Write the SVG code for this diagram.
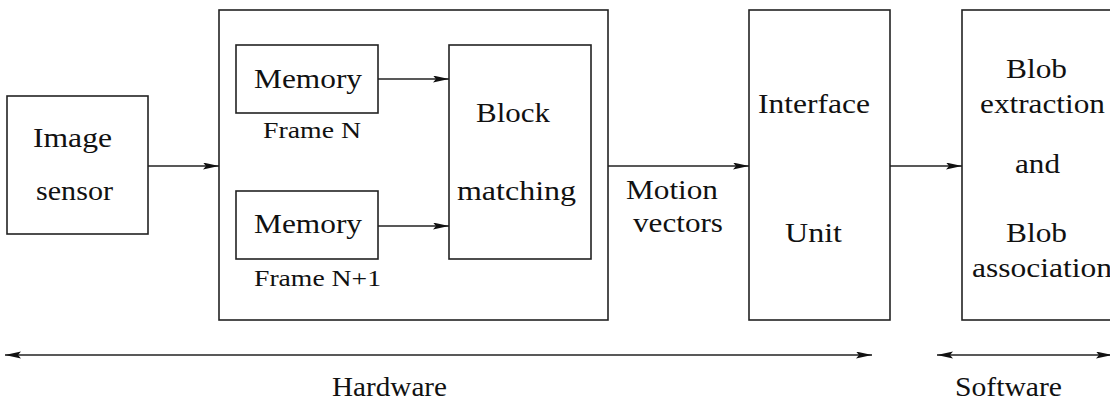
<svg xmlns="http://www.w3.org/2000/svg" width="1110" height="400" viewBox="0 0 1110 400">
<style>
.box{fill:#fff;stroke:#222;stroke-width:1.6}
.t{font-family:"Liberation Serif","Times New Roman",serif;font-size:27px;fill:#111}
.s{font-family:"Liberation Serif","Times New Roman",serif;font-size:23px;fill:#111}
.ln{stroke:#222;stroke-width:1.6;fill:none}
</style>
<defs>
<marker id="ah" markerUnits="userSpaceOnUse" markerWidth="17" markerHeight="8" refX="16" refY="3.5" orient="auto-start-reverse">
<path d="M0,0 L16,3.5 L0,7 L3,3.5 z" fill="#111"/>
</marker>
</defs>
<rect width="1110" height="400" fill="#fff"/>
<g id="image-sensor">
<rect class="box" x="7" y="96" width="141" height="138"/>
<text class="t" x="33" y="147" textLength="79" lengthAdjust="spacingAndGlyphs">Image</text>
<text class="t" x="36" y="200" textLength="77" lengthAdjust="spacingAndGlyphs">sensor</text>
</g>
<g id="hardware-block">
<rect class="box" x="219" y="10" width="389" height="310"/>
</g>
<g id="memory-n">
<rect class="box" x="236" y="45" width="142" height="68"/>
<text class="t" x="254" y="88" textLength="108" lengthAdjust="spacingAndGlyphs">Memory</text>
<text class="s" x="263" y="138" textLength="98" lengthAdjust="spacingAndGlyphs">Frame N</text>
</g>
<g id="memory-n1">
<rect class="box" x="236" y="191" width="142" height="68"/>
<text class="t" x="254" y="233" textLength="108" lengthAdjust="spacingAndGlyphs">Memory</text>
<text class="s" x="254" y="286" textLength="127" lengthAdjust="spacingAndGlyphs">Frame N+1</text>
</g>
<g id="block-matching">
<rect class="box" x="449" y="45" width="142" height="214"/>
<text class="t" x="476" y="122" textLength="74" lengthAdjust="spacingAndGlyphs">Block</text>
<text class="t" x="457" y="200" textLength="119" lengthAdjust="spacingAndGlyphs">matching</text>
</g>
<g id="interface-unit">
<rect class="box" x="749" y="10" width="141" height="310"/>
<text class="t" x="758" y="113" textLength="112" lengthAdjust="spacingAndGlyphs">Interface</text>
<text class="t" x="785" y="242" textLength="57" lengthAdjust="spacingAndGlyphs">Unit</text>
</g>
<g id="blob">
<rect class="box" x="962" y="10" width="160" height="310"/>
<text class="t" x="1006" y="78" textLength="61" lengthAdjust="spacingAndGlyphs">Blob</text>
<text class="t" x="980" y="113" textLength="125" lengthAdjust="spacingAndGlyphs">extraction</text>
<text class="t" x="1015" y="173" textLength="45" lengthAdjust="spacingAndGlyphs">and</text>
<text class="t" x="1006" y="242" textLength="61" lengthAdjust="spacingAndGlyphs">Blob</text>
<text class="t" x="972" y="277" textLength="140" lengthAdjust="spacingAndGlyphs">association</text>
</g>
<g id="connectors">
<line class="ln" x1="148" y1="166" x2="219" y2="166" marker-end="url(#ah)"/>
<line class="ln" x1="378" y1="79" x2="449" y2="79" marker-end="url(#ah)"/>
<line class="ln" x1="378" y1="226" x2="449" y2="226" marker-end="url(#ah)"/>
<line class="ln" x1="608" y1="166" x2="749" y2="166" marker-end="url(#ah)"/>
<line class="ln" x1="890" y1="166" x2="962" y2="166" marker-end="url(#ah)"/>
<line class="ln" x1="5" y1="355" x2="872" y2="355" marker-start="url(#ah)" marker-end="url(#ah)"/>
<line class="ln" x1="937" y1="355" x2="1112" y2="355" marker-start="url(#ah)" marker-end="url(#ah)"/>
</g>
<g id="labels">
<text class="t" x="626" y="199" textLength="92" lengthAdjust="spacingAndGlyphs">Motion</text>
<text class="t" x="633" y="232" textLength="90" lengthAdjust="spacingAndGlyphs">vectors</text>
<text class="t" x="332" y="396" textLength="115" lengthAdjust="spacingAndGlyphs">Hardware</text>
<text class="t" x="955" y="396" textLength="107" lengthAdjust="spacingAndGlyphs">Software</text>
</g>
</svg>
